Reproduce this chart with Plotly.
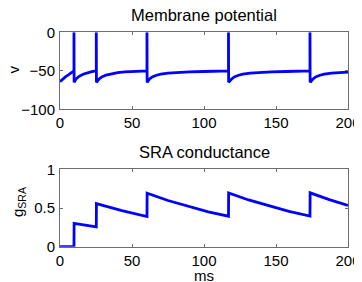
import plotly.graph_objects as go

# Membrane potential (ms, mV)
t_v = [0, 2, 4, 6, 8, 9.6, 9.7, 9.7, 9.8,
       11, 13, 16, 19, 22, 25.2, 25.2, 25.3,
       27, 29, 32, 36, 40, 45, 50, 55, 60.4, 60.4, 60.5,
       62, 64, 67, 70, 75, 80, 90, 100, 110, 117, 117, 117.1,
       119, 121, 124, 127, 132, 137, 147, 157, 167, 173.6, 173.6, 173.7,
       175.5, 177.5, 180.5, 183.5, 188.5, 193.5, 200]
v = [-64, -60.5, -57.5, -55, -52.3, -50.3, -50, 0, -65,
     -61, -57.5, -54.5, -52.5, -51, -50, 0, -65,
     -61, -58, -55.5, -53.5, -52.3, -51.3, -50.8, -50.4, -50, 0, -65,
     -61, -58, -55.8, -54.3, -53, -52.3, -51.5, -50.9, -50.4, -50, 0, -65,
     -61, -58, -55.8, -54.3, -53, -52.3, -51.5, -50.9, -50.4, -50, 0, -65,
     -61, -58, -55.8, -54.3, -53, -52.3, -51.7]

# SRA conductance
t_g = [0, 9.7, 9.8, 25.2, 25.3, 43, 60.4, 60.5, 75, 89, 103, 117, 117.1,
       131, 145, 159, 173.6, 173.7, 187, 200]
g = [0, 0, 0.3, 0.257, 0.557, 0.467, 0.39, 0.69, 0.597, 0.519, 0.451, 0.394, 0.694,
     0.604, 0.525, 0.456, 0.396, 0.696, 0.609, 0.534]

x_ticks = [0, 50, 100, 150, 200]
v_ticks = [-100, -50, 0]
g_ticks = [0, 0.5, 1]
g_tick_text = ["0", "0.5", "1"]

FONT = "Arial, Liberation Sans, sans-serif"
BLUE = "#0000ff"
FRAME = "#6e6e6e"
W, H = 362, 282
OFF = 8  # page body margin


def px(xp):
    return (xp - OFF) / W


def py(yp):
    return 1 - (yp - OFF) / H


fig = go.Figure()
fig.add_trace(go.Scatter(x=t_v, y=v, mode="lines", line=dict(color=BLUE, width=2.8),
                         xaxis="x", yaxis="y", showlegend=False, hoverinfo="skip"))
fig.add_trace(go.Scatter(x=t_g, y=g, mode="lines", line=dict(color=BLUE, width=2.8),
                         xaxis="x2", yaxis="y2", showlegend=False, hoverinfo="skip"))

x0, x1 = px(60), px(348)
top_dom = [py(109.3), py(32.3)]
bot_dom = [py(246.7), py(169.3)]

ax_common = dict(showgrid=False, zeroline=False, showline=True, linecolor=FRAME, linewidth=1,
                 mirror="ticks", ticks="inside", ticklen=3, tickcolor=FRAME, tickwidth=1,
                 automargin=False,
                 tickfont=dict(family=FONT, size=15, color="#000"))
xa = dict(**ax_common)
ya = dict(ticklabelstandoff=1, **ax_common)

tf = dict(family=FONT, size=16.5, color="#000")
lf = dict(family=FONT, size=15, color="#000")

fig.update_layout(
    template="none",
    width=W, height=H,
    margin=dict(l=0, r=0, t=0, b=0, autoexpand=False),
    paper_bgcolor="white", plot_bgcolor="white",
    xaxis=dict(domain=[x0, x1], anchor="y", range=[0, 200], tickvals=x_ticks, **xa),
    yaxis=dict(domain=top_dom, anchor="x", range=[-100, 0], tickvals=v_ticks, **ya),
    xaxis2=dict(domain=[x0, x1], anchor="y2", range=[0, 200], tickvals=x_ticks, **xa),
    yaxis2=dict(domain=bot_dom, anchor="x2", range=[0, 1], tickvals=g_ticks,
                ticktext=g_tick_text, **ya),
    annotations=[
        dict(text="Membrane potential", x=(x0 + x1) / 2, y=py(15.5), xref="paper", yref="paper",
             showarrow=False, font=tf, xanchor="center", yanchor="middle"),
        dict(text="SRA conductance", x=(x0 + x1) / 2, y=py(152), xref="paper", yref="paper",
             showarrow=False, font=tf, xanchor="center", yanchor="middle"),
        dict(text="ms", x=(x0 + x1) / 2, y=py(275.5), xref="paper", yref="paper",
             showarrow=False, font=lf, xanchor="center", yanchor="middle"),
        dict(text="v", x=px(13.5), y=py(70), xref="paper", yref="paper", textangle=-90,
             showarrow=False, font=lf, xanchor="center", yanchor="middle"),
        dict(text="g<sub>SRA</sub>", x=px(18), y=py(202), xref="paper", yref="paper", textangle=-90,
             showarrow=False, font=lf, xanchor="center", yanchor="middle"),
    ],
)

fig.write_html("out.html")
